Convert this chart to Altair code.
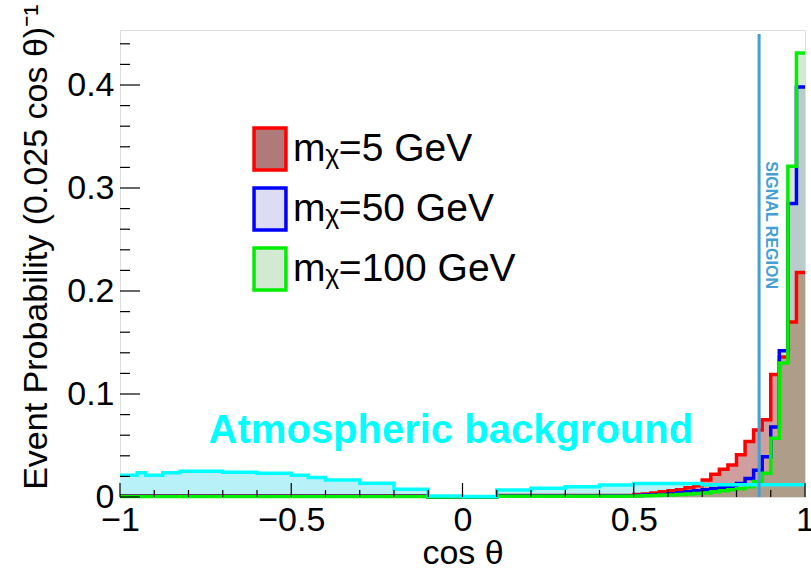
import altair as alt
import pandas as pd

# ---------------- data ----------------
X_MIN, X_MAX, BIN_WIDTH = -1.0, 1.0, 0.025
Y_MAX = 0.4534

SERIES = ["m\u1d6a=5 GeV", "m\u1d6a=50 GeV", "m\u1d6a=100 GeV"]

# 80 bins of width 0.025 from -1 to 1
RED_5GEV = ([0.0012] * 36 + [0.0] * 8 + [0.0015] * 16 +
            [0.0025, 0.003, 0.004, 0.005, 0.006, 0.007, 0.009, 0.011,
             0.0165, 0.022, 0.027, 0.031, 0.041, 0.054, 0.065, 0.075,
             0.119, 0.136, 0.170, 0.218])
BLUE_50GEV = ([0.0008] * 36 + [0.0] * 8 + [0.001] * 16 +
              [0.0015, 0.002, 0.002, 0.0025, 0.003, 0.004, 0.005, 0.006,
               0.007, 0.008, 0.009, 0.010, 0.013, 0.018, 0.026, 0.039,
               0.068, 0.142, 0.285, 0.398])
GREEN_100GEV = ([0.0005] * 36 + [0.0] * 8 + [0.0008] * 16 +
                [0.001, 0.0012, 0.0015, 0.002, 0.002, 0.0025, 0.003, 0.0035,
                 0.004, 0.005, 0.006, 0.007, 0.008, 0.010, 0.015, 0.023,
                 0.057, 0.130, 0.321, 0.431])
ATMOS_BKG = ([0.021, 0.021, 0.0235, 0.021, 0.021, 0.0235, 0.0235, 0.025,
              0.025, 0.025, 0.025, 0.025, 0.024, 0.024, 0.024, 0.024,
              0.023, 0.023, 0.023, 0.023, 0.021, 0.021, 0.019, 0.019] +
             [0.0165] * 4 + [0.0133] * 4 + [0.0075] * 4 + [0.001] * 4 +
             [0.0005] * 4 + [0.0068] * 4 + [0.0085] * 4 + [0.010] * 4 +
             [0.0117] * 4 + [0.013] * 8 + [0.012] * 12)

SIGNAL_CUT = 0.866
SIGNAL_TOP = 0.4495

X_MAJOR = [-1, -0.5, 0, 0.5, 1]
X_MINOR = [-0.9, -0.8, -0.7, -0.6, -0.4, -0.3, -0.2, -0.1,
           0.1, 0.2, 0.3, 0.4, 0.6, 0.7, 0.8, 0.9]
Y_MAJOR = [0, 0.1, 0.2, 0.3, 0.4]
Y_MINOR = [0.02, 0.04, 0.06, 0.08, 0.12, 0.14, 0.16, 0.18, 0.22, 0.24,
           0.26, 0.28, 0.32, 0.34, 0.36, 0.38, 0.42, 0.44]

# ---------------- tables ----------------
edges = [X_MIN + BIN_WIDTH * i for i in range(len(RED_5GEV) + 1)]


def step_df(vals, name):
    return pd.DataFrame({"x": edges, "y": list(vals) + [vals[-1]], "series": name})


red_df = step_df(RED_5GEV, SERIES[0])
blue_df = step_df(BLUE_50GEV, SERIES[1])
green_df = step_df(GREEN_100GEV, SERIES[2])
atm_df = step_df(ATMOS_BKG, "Atmospheric background")
sig_df = pd.concat([red_df, blue_df, green_df], ignore_index=True)

FONT = "Liberation Sans"
W, H = 685, 467

xs = alt.Scale(domain=[X_MIN, X_MAX], nice=False, zero=False)
ys = alt.Scale(domain=[0, Y_MAX], nice=False, zero=True)

xaxis = alt.Axis(values=X_MAJOR, format="~g", title="cos \u03b8", grid=False,
                 domain=False, ticks=False, labelFontSize=34, labelFont=FONT,
                 labelColor="black", labelPadding=6, labelFlush=False,
                 labelOverlap=False, titleFont=FONT, titleFontSize=34,
                 titleFontWeight="normal", titleColor="black", titleY=66,
                 titleBaseline="alphabetic")
yaxis = alt.Axis(values=Y_MAJOR, format="~g",
                 title="Event Probability (0.025 cos \u03b8)\u207b\u00b9",
                 grid=False, domain=False, ticks=False, labelFontSize=34,
                 labelFont=FONT, labelColor="black", labelPadding=6,
                 labelFlush=False, labelOverlap=False, titleFont=FONT,
                 titleFontSize=34, titleFontWeight="normal", titleColor="black",
                 titleAngle=270, titleAlign="right", titleBaseline="alphabetic",
                 titleX=-74, titleY=-26)

X = alt.X("x:Q", scale=xs, axis=xaxis)
Y = alt.Y("y:Q", scale=ys, axis=yaxis)

# legend-only layer (no marks drawn)
legend = alt.Legend(title=None, orient="none", legendX=127, legendY=96,
                    symbolType="M-0.76,-1H0.76V1H-0.76Z", symbolSize=1764,
                    symbolStrokeWidth=3.5, symbolOpacity=1, labelFontSize=39,
                    labelFont=FONT, labelColor="black", labelLimit=500,
                    rowPadding=4, labelOffset=0, padding=0)
legend_layer = alt.Chart(sig_df).mark_area(opacity=1, strokeWidth=3.5).encode(
    x=X, y=Y,
    fill=alt.Fill("series:N", sort=SERIES,
                  scale=alt.Scale(domain=SERIES,
                                  range=["#b07a7a", "#dcdcf4", "#d2ead2"]),
                  legend=legend),
    stroke=alt.Stroke("series:N", sort=SERIES,
                      scale=alt.Scale(domain=SERIES,
                                      range=["#ff0000", "#0000ff", "#00ee00"]),
                      legend=legend),
).transform_filter("false")


def fill_layer(df, color, op):
    return alt.Chart(df).mark_area(interpolate="step-after", fill=color,
                                   fillOpacity=op, strokeWidth=0).encode(x=X, y=Y)


def line_layer(df, color):
    return alt.Chart(df).mark_line(interpolate="step-after", color=color,
                                   strokeWidth=3.5).encode(x=X, y=Y)


layers = [
    legend_layer,
    fill_layer(atm_df, "#b8f2f8", 1),
    fill_layer(blue_df, "#dcdcf4", 1),
    fill_layer(red_df, "#cf9f9f", 1),
    fill_layer(green_df, "#3a9a3a", 0.22),
    line_layer(red_df, "#ff0000"),
    line_layer(blue_df, "#0000ff"),
    line_layer(green_df, "#00ee00"),
    line_layer(atm_df, "#00ffff"),
]

rule_df = pd.DataFrame({"x": [SIGNAL_CUT], "y": [0.0], "y2": [SIGNAL_TOP]})
layers.append(alt.Chart(rule_df).mark_rule(color="#44a0d4", strokeWidth=3).encode(
    x=X, y=Y, y2="y2:Q"))

sig_txt = pd.DataFrame({"x": [0.902], "y": [0.264], "t": ["SIGNAL REGION"]})
layers.append(alt.Chart(sig_txt).mark_text(angle=90, align="center",
                                           baseline="middle", font=FONT,
                                           fontSize=16, fontWeight="bold",
                                           color="#44a0d4").encode(
    x=X, y=Y, text="t:N"))

atm_txt = pd.DataFrame({"x": [-0.034], "y": [0.0524], "t": ["Atmospheric background"]})
layers.append(alt.Chart(atm_txt).mark_text(align="center", baseline="alphabetic",
                                           font=FONT, fontSize=40,
                                           fontWeight="bold", color="#00ffff").encode(
    x=X, y=Y, text="t:N"))

# inward tick marks
def xticks(vals, length):
    return alt.Chart(pd.DataFrame({"x": vals})).mark_rule(
        color="black", strokeWidth=1.2).encode(
        x=X, y=alt.value(H), y2=alt.value(H - length))


def yticks(vals, length):
    return alt.Chart(pd.DataFrame({"y": vals})).mark_rule(
        color="black", strokeWidth=1.2).encode(
        y=Y, x=alt.value(0), x2=alt.value(length))


layers += [xticks(X_MAJOR, 14), xticks(X_MINOR, 7),
           yticks(Y_MAJOR, 20), yticks(Y_MINOR, 10)]

chart = alt.layer(*layers).properties(
    width=W, height=H,
    autosize=alt.AutoSizeParams(type="none"),
    padding={"left": 120, "top": 30, "right": 6, "bottom": 72},
).configure_view(stroke="black", strokeWidth=1.5).configure(font=FONT)

chart.save("out.html", embed_options={"renderer": "svg", "actions": False})
